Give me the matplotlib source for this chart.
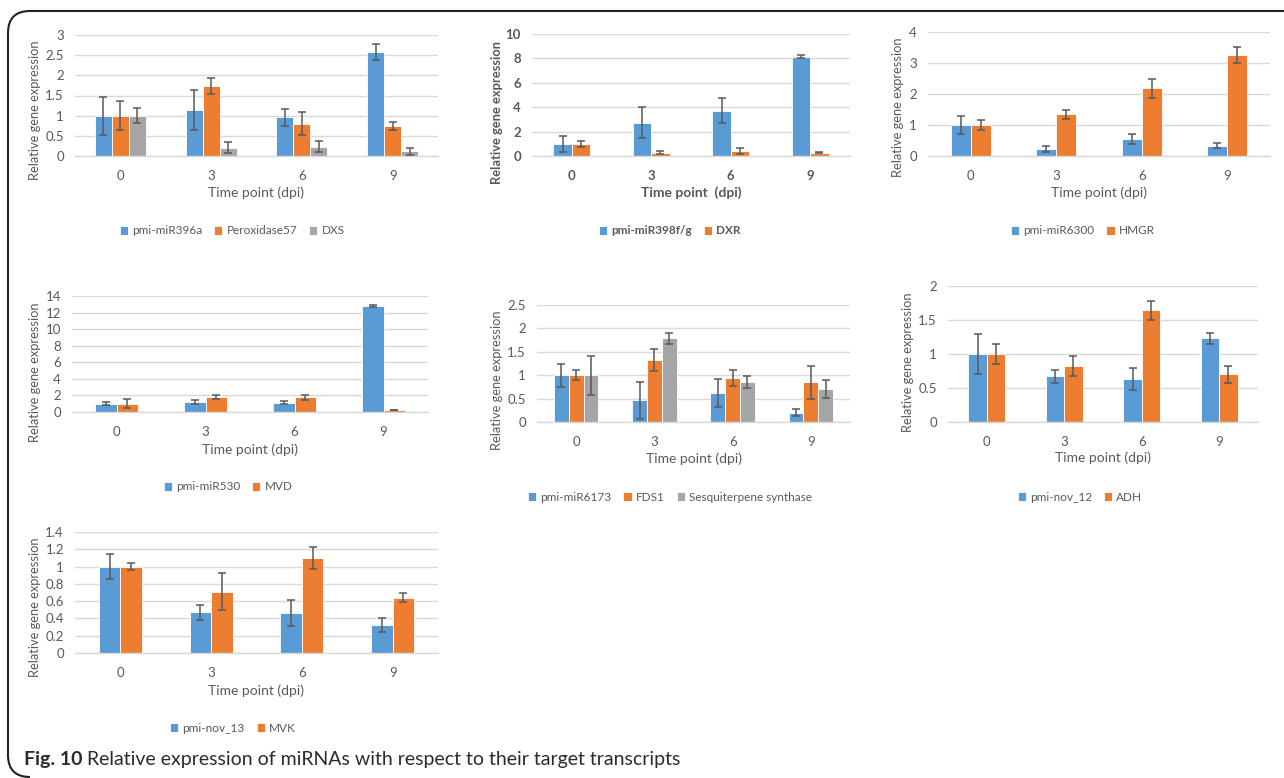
import matplotlib.pyplot as plt
from matplotlib.path import Path
from matplotlib.patches import PathPatch
import numpy as np

plt.rcParams['font.family'] = ['Lato', 'DejaVu Sans']

W, H = 1284, 778
BLUE, ORANGE, GRAY = '#5B9BD5', '#ED7D31', '#A5A5A5'
TXT = '#595959'
GRID = '#D9D9D9'

days = ['0', '3', '6', '9']

# Panel 1
p1_names = ['pmi-miR396a', 'Peroxidase57', 'DXS']
p1_vals = [[1.0, 1.14, 0.96, 2.57], [1.0, 1.74, 0.80, 0.74], [1.0, 0.21, 0.23, 0.12]]
p1_errs = [[0.47, 0.50, 0.21, 0.20], [0.36, 0.20, 0.29, 0.10], [0.19, 0.13, 0.14, 0.09]]

# Panel 2
p2_names = ['pmi-miR398f/g', 'DXR']
p2_vals = [[0.99, 2.74, 3.70, 8.14], [1.0, 0.27, 0.41, 0.25]]
p2_errs = [[0.67, 1.30, 1.02, 0.12], [0.26, 0.13, 0.23, 0.04]]

# Panel 3
p3_names = ['pmi-miR6300', 'HMGR']
p3_vals = [[1.0, 0.23, 0.55, 0.33], [1.0, 1.34, 2.18, 3.25]]
p3_errs = [[0.30, 0.10, 0.16, 0.08], [0.16, 0.14, 0.32, 0.26]]

# Panel 4
p4_names = ['pmi-miR530', 'MVD']
p4_vals = [[1.0, 1.2, 1.12, 12.8], [1.0, 1.76, 1.76, 0.24]]
p4_errs = [[0.18, 0.28, 0.20, 0.13], [0.54, 0.24, 0.33, 0.04]]

# Panel 5
p5_names = ['pmi-miR6173', 'FDS1', 'Sesquiterpene synthase']
p5_vals = [[1.0, 0.46, 0.61, 0.20], [1.0, 1.33, 0.94, 0.85], [1.0, 1.79, 0.86, 0.70]]
p5_errs = [[0.25, 0.39, 0.30, 0.08], [0.11, 0.24, 0.18, 0.35], [0.42, 0.12, 0.13, 0.19]]

# Panel 6
p6_names = ['pmi-nov_12', 'ADH']
p6_vals = [[1.0, 0.67, 0.63, 1.23], [1.0, 0.82, 1.64, 0.70]]
p6_errs = [[0.30, 0.09, 0.16, 0.08], [0.15, 0.15, 0.14, 0.12]]

# Panel 7
p7_names = ['pmi-nov_13', 'MVK']
p7_vals = [[1.0, 0.47, 0.46, 0.32], [1.0, 0.71, 1.10, 0.64]]
p7_errs = [[0.14, 0.09, 0.15, 0.08], [0.04, 0.21, 0.13, 0.05]]


def fx(x):
    return x / W


def fy(y):
    return 1 - y / H


fig = plt.figure(figsize=(W / 100, H / 100), dpi=100)

# rounded frame around the figure
verts = [(fx(1284), fy(11)), (fx(30), fy(11)), (fx(8), fy(11)), (fx(8), fy(33)),
         (fx(8), fy(755)), (fx(8), fy(777)), (fx(30), fy(777))]
codes = [Path.MOVETO, Path.LINETO, Path.CURVE3, Path.CURVE3,
         Path.LINETO, Path.CURVE3, Path.CURVE3]
fig.patches.append(PathPatch(Path(verts, codes), transform=fig.transFigure,
                             fill=False, lw=1.5, edgecolor='#222222'))


def panel(box, names, vals, errs, ymax, ystep, barw, ylab_x, ylab_y, xlab_y,
          leg_x, leg_y, bold=False, xlabel='Time point (dpi)'):
    x0, x1, y0, y1 = box
    ax = fig.add_axes([fx(x0), fy(y1), fx(x1 - x0), (y1 - y0) / H])
    colors = [BLUE, ORANGE, GRAY]
    n = len(names)
    x = np.arange(4)
    fw = 'bold' if bold else 'normal'
    for i in range(n):
        off = (i - (n - 1) / 2) * barw
        ax.bar(x + off, vals[i], barw, color=colors[i], edgecolor='white',
               linewidth=0.6, label=names[i], zorder=2)
        ax.errorbar(x + off, vals[i], yerr=errs[i], fmt='none', ecolor='#595959',
                    elinewidth=1.1, capsize=2.6, capthick=1.1, zorder=3)
    ax.set_xlim(-0.5, 3.5)
    ax.set_ylim(0, ymax)
    yt = np.arange(0, ymax + ystep / 2, ystep)
    ax.set_yticks(yt)
    ax.set_yticklabels(['%g' % v for v in yt], fontsize=9.5, color=TXT,
                       fontweight=fw)
    ax.set_xticks(x)
    ax.set_xticklabels(days, fontsize=9.5, color=TXT, fontweight=fw)
    ax.tick_params(length=0, axis='x', pad=10)
    ax.tick_params(length=0, axis='y', pad=8)
    ax.grid(axis='y', color=GRID, lw=1, zorder=0)
    ax.set_axisbelow(True)
    for s in ['top', 'right', 'left']:
        ax.spines[s].set_visible(False)
    ax.spines['bottom'].set_color(GRID)
    ax.spines['bottom'].set_linewidth(1)
    fig.text(fx(ylab_x), fy(ylab_y), 'Relative gene expression', rotation=90,
             ha='center', va='center', fontsize=9.3, color=TXT, fontweight=fw)
    fig.text(fx((x0 + x1) / 2), fy(xlab_y), xlabel, ha='center', va='center',
             fontsize=10, color=TXT, fontweight=fw)
    ax.legend(loc='center', bbox_to_anchor=(fx(leg_x), fy(leg_y)),
              bbox_transform=fig.transFigure, ncol=n, frameon=False,
              handlelength=0.7, handleheight=0.7, handletextpad=0.35,
              columnspacing=1.0, prop={'size': 8.5, 'weight': fw},
              labelcolor=TXT)
    return ax


panel((75, 438, 35, 156), p1_names, p1_vals, p1_errs, 3, 0.5, 0.187,
      35, 110, 193, 232, 231)
panel((532, 850, 34, 156), p2_names, p2_vals, p2_errs, 10, 2, 0.23,
      497, 112, 193, 670, 231, bold=True, xlabel='Time point  (dpi)')
panel((928, 1270, 32, 156), p3_names, p3_vals, p3_errs, 4, 1, 0.235,
      898, 107, 193, 1083, 231)
panel((72, 428, 296, 412), p4_names, p4_vals, p4_errs, 14, 2, 0.24,
      35, 372, 450, 228, 487)
panel((537, 850, 305, 422), p5_names, p5_vals, p5_errs, 2.5, 0.5, 0.19,
      497, 380, 459, 670, 497)
panel((948, 1258, 286, 422), p6_names, p6_vals, p6_errs, 2, 0.5, 0.236,
      908, 362, 458, 1080, 497)
panel((75, 438, 532, 653), p7_names, p7_vals, p7_errs, 1.4, 0.2, 0.238,
      35, 607, 691, 233, 728)

# caption
t1 = fig.text(fx(24), fy(760), 'Fig. 10', fontsize=14, fontweight='bold',
              color='#2b2b2b', ha='left', va='center')
r = fig.canvas.get_renderer()
bb = t1.get_window_extent(renderer=r)
fig.text(bb.x1 / W + fx(5), fy(760),
         'Relative expression of miRNAs with respect to their target transcripts',
         fontsize=14, color='#2b2b2b', ha='left', va='center')

plt.savefig('out.png', dpi=100)
